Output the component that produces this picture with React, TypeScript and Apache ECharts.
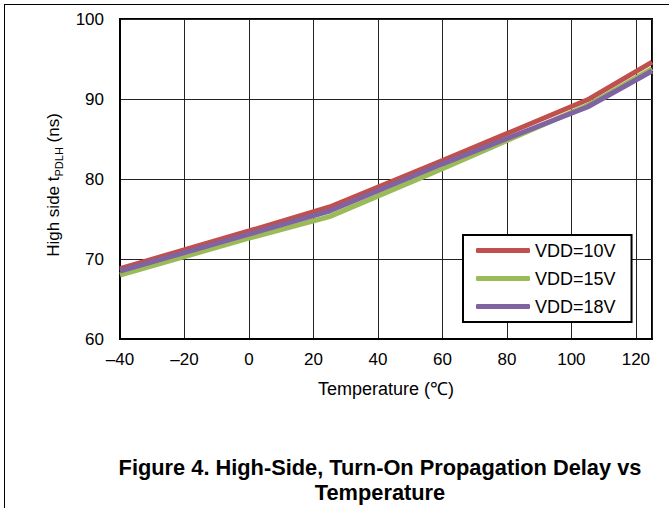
import React, { useEffect, useRef } from "react";
import * as echarts from "echarts";

const temps = [-40, 0, 25, 60, 105, 125];
const vdd10 = [68.8, 73.5, 76.5, 82.3, 89.9, 94.6];
const vdd15 = [68.0, 72.6, 75.3, 81.3, 89.2, 93.8];
const vdd18 = [68.5, 73.1, 76.0, 81.9, 89.0, 93.5];
const seriesNames = ["VDD=10V", "VDD=15V", "VDD=18V"];
const colors = ["#c0504d", "#9bbb59", "#8064a2"];
const xTicks = [-40, -20, 0, 20, 40, 60, 80, 100, 120];

const FONT = "Arial, 'Liberation Sans', sans-serif";

export default function App() {
  const ref = useRef<HTMLDivElement>(null);
  useEffect(() => {
    if (!ref.current) return;
    const chart = echarts.init(ref.current, undefined, { renderer: "svg" });
    const all = [vdd10, vdd15, vdd18];
    chart.setOption({
      animation: false,
      backgroundColor: "#fff",
      textStyle: { fontFamily: FONT },
      grid: {
        left: 120,
        right: 17,
        top: 19,
        bottom: 169,
        show: true,
        borderColor: "#000",
        borderWidth: 2,
        backgroundColor: "transparent",
      },
      xAxis: {
        type: "value",
        min: -40,
        max: 125,
        interval: 20,
        name: "Temperature (℃)",
        nameLocation: "middle",
        nameGap: 41,
        nameTextStyle: { fontSize: 18, color: "#000", fontFamily: FONT },
        axisLine: { show: true, onZero: false, lineStyle: { color: "#000", width: 2 } },
        axisTick: { show: false },
        splitLine: { show: true, lineStyle: { color: "#222", width: 1 } },
        axisLabel: {
          fontSize: 17,
          color: "#000",
          margin: 12,
          showMaxLabel: false,
          formatter: (v: number) =>
            xTicks.indexOf(v) >= 0 ? String(v).replace("-", "\u2013") : "",
        },
      },
      yAxis: {
        type: "value",
        min: 60,
        max: 100,
        interval: 10,
        name: "High side t{sub|PDLH} (ns)",
        nameLocation: "middle",
        nameRotate: 90,
        nameGap: 52,
        nameTextStyle: {
          fontSize: 17,
          color: "#000",
          fontFamily: FONT,
          lineHeight: 22,
          padding: [0, 12, 0, 0],
          rich: {
            sub: {
              fontSize: 11,
              color: "#000",
              fontFamily: FONT,
              lineHeight: 10,
              verticalAlign: "bottom",
            },
          },
        },
        axisLine: { show: true, onZero: false, lineStyle: { color: "#000", width: 2 } },
        axisTick: { show: false },
        splitLine: { show: true, lineStyle: { color: "#222", width: 1 } },
        axisLabel: { fontSize: 17, color: "#000", margin: 16 },
      },
      legend: {
        orient: "vertical",
        left: 463,
        top: 235,
        padding: [6, 16, 6, 13],
        backgroundColor: "#fff",
        borderColor: "#000",
        borderWidth: 2,
        borderRadius: 0,
        itemWidth: 54,
        itemHeight: 5,
        itemGap: 9,
        icon: "roundRect",
        textStyle: { fontSize: 18, color: "#000", fontFamily: FONT, lineHeight: 19 },
        data: seriesNames,
      },
      graphic: [
        { type: "line", shape: { x1: 4, y1: 4.5, x2: 669, y2: 4.5 }, style: { stroke: "#000", lineWidth: 1 } },
        { type: "line", shape: { x1: 4.5, y1: 4, x2: 4.5, y2: 508 }, style: { stroke: "#000", lineWidth: 1 } },
        {
          type: "text",
          x: 380,
          y: 467,
          style: {
            text: "Figure 4. High-Side, Turn-On Propagation Delay vs",
            fontSize: 21.8,
            fontWeight: "bold",
            fontFamily: FONT,
            fill: "#000",
            align: "center",
            verticalAlign: "middle",
          },
        },
        {
          type: "text",
          x: 380,
          y: 492,
          style: {
            text: "Temperature",
            fontSize: 21.8,
            fontWeight: "bold",
            fontFamily: FONT,
            fill: "#000",
            align: "center",
            verticalAlign: "middle",
          },
        },
      ],
      series: seriesNames.map((n, i) => ({
        name: n,
        type: "line",
        data: temps.map((t, j) => [t, all[i][j]]),
        showSymbol: false,
        symbol: "none",
        lineStyle: { color: colors[i], width: 5 },
        itemStyle: { color: colors[i] },
        z: 2 + i,
      })),
    });
    return () => chart.dispose();
  }, []);
  return (
    <div
      ref={ref}
      style={{ position: "fixed", left: 0, top: 0, width: 669, height: 508 }}
    />
  );
}
